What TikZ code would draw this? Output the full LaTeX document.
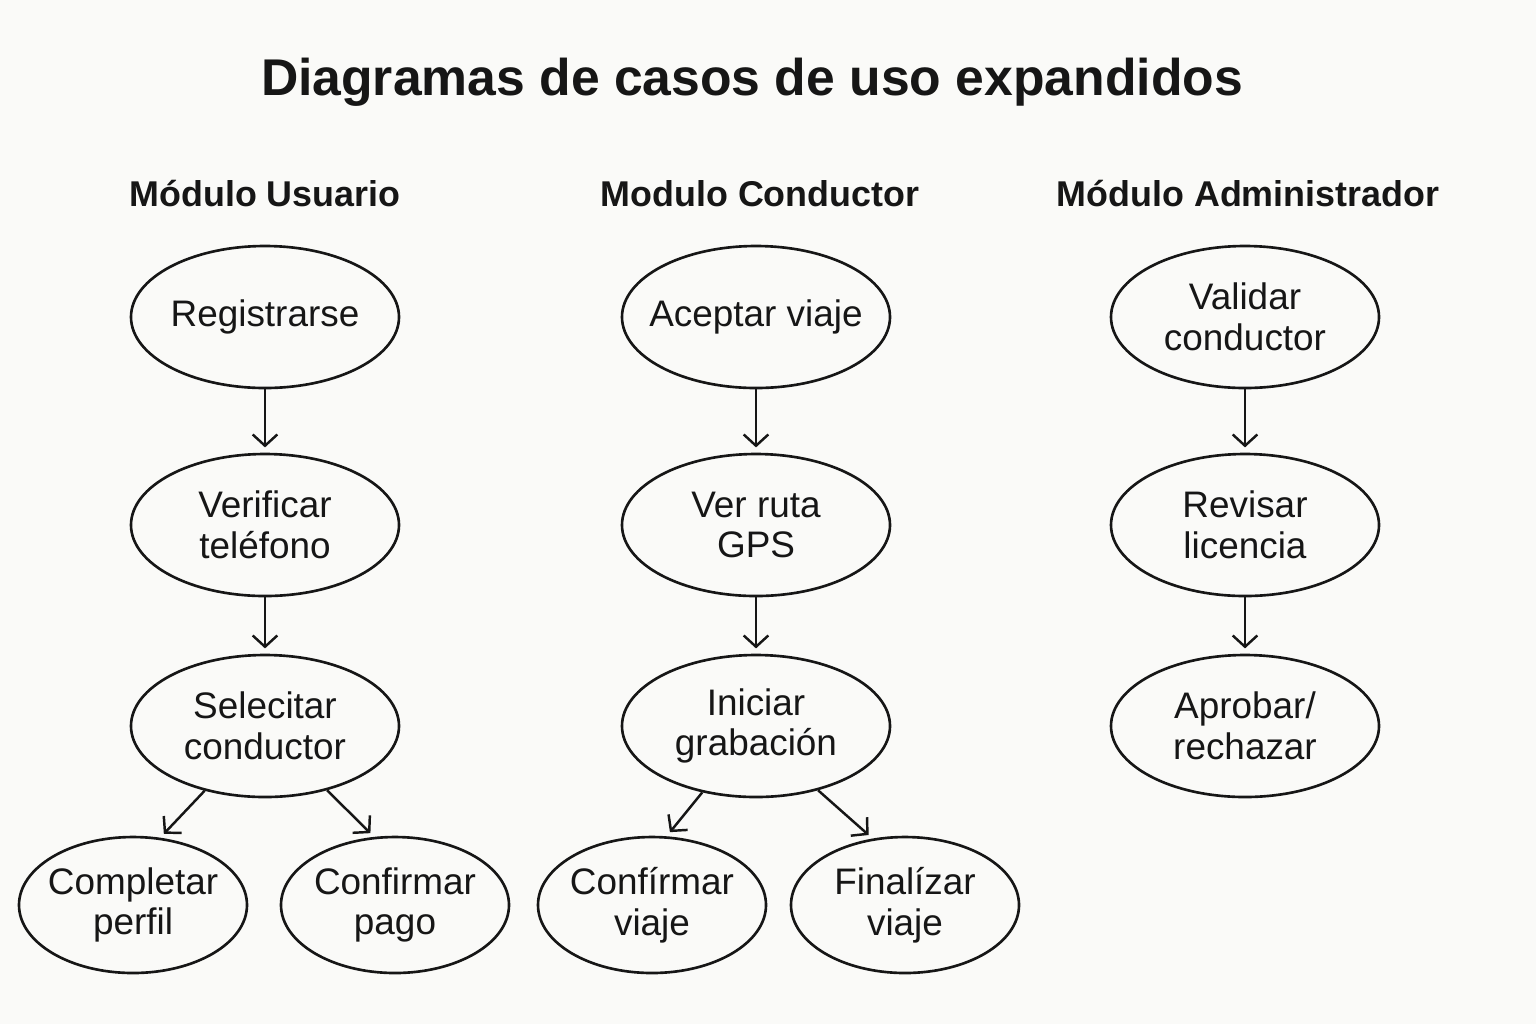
\documentclass[tikz,border=0pt]{standalone}
\usepackage{fontspec}
\setmainfont{Liberation Sans}
\usepackage{tikz}
\usetikzlibrary{shapes.geometric, arrows.meta}

\definecolor{bgpaper}{RGB}{250,250,248}
\definecolor{ink}{RGB}{22,22,22}

\begin{document}
\begin{tikzpicture}[
      uc/.style={ellipse, draw=ink, line width=0.75pt, minimum width=2.68cm,
        minimum height=1.42cm, inner xsep=-12pt, inner ysep=0pt, align=center, text=ink,
        font=\fontsize{10.5pt}{11.6pt}\selectfont},
      ucs/.style={uc, minimum width=2.28cm, minimum height=1.36cm},
      hdr/.style={text=ink, font=\fontsize{10.2pt}{12pt}\selectfont\bfseries},
      arr/.style={-{Straight Barb[length=3.2pt,width=7pt]}, draw=ink,
        line width=0.7pt, shorten >=1.5pt}]
      \useasboundingbox[fill=bgpaper] (0,0) rectangle (15.36,-10.24);
      % title
      \node[text=ink, font=\fontsize{14.7pt}{17pt}\selectfont\bfseries] (title) at (7.52,-0.82)
        {Diagramas de casos de uso expandidos};
      % column headers
      \node[hdr] (hU) at (2.65,-1.94) {Módulo Usuario};
      \node[hdr] (hC) at (7.60,-1.94) {Modulo Conductor};
      \node[hdr] (hA) at (12.48,-1.94) {Módulo Administrador};
      % Modulo Usuario
      \node[uc] (reg) at (2.65,-3.17) {Registrarse};
      \node[uc] (ver) at (2.65,-5.25) {Verificar\\teléfono};
      \node[uc] (sel) at (2.65,-7.26) {Selecitar\\conductor};
      \node[ucs] (comp) at (1.33,-9.05) {Completar\\perfil};
      \node[ucs] (pago) at (3.95,-9.05) {Confirmar\\pago};
      % Modulo Conductor
      \node[uc] (acep) at (7.56,-3.17) {Aceptar viaje};
      \node[uc] (gps) at (7.56,-5.25) {Ver ruta\\GPS};
      \node[uc] (grab) at (7.56,-7.26) {Iniciar\\grabación};
      \node[ucs] (conf) at (6.52,-9.05) {Confírmar\\viaje};
      \node[ucs] (fin) at (9.05,-9.05) {Finalízar\\viaje};
      % Modulo Administrador
      \node[uc] (val) at (12.45,-3.17) {Validar\\conductor};
      \node[uc] (lic) at (12.45,-5.25) {Revisar\\licencia};
      \node[uc] (apr) at (12.45,-7.26) {Aprobar/\\rechazar};
      % connectors
      \draw[arr] (reg) -- (ver);
      \draw[arr] (ver) -- (sel);
      \draw[arr] (sel.227) -- (comp.68);
      \draw[arr] (sel.314) -- (pago.107);
      \draw[arr] (acep) -- (gps);
      \draw[arr] (gps) -- (grab);
      \draw[arr] (grab.231) -- (conf.78);
      \draw[arr] (grab.314) -- (fin.116);
      \draw[arr] (val) -- (lic);
      \draw[arr] (lic) -- (apr);
    \end{tikzpicture}
\end{document}
